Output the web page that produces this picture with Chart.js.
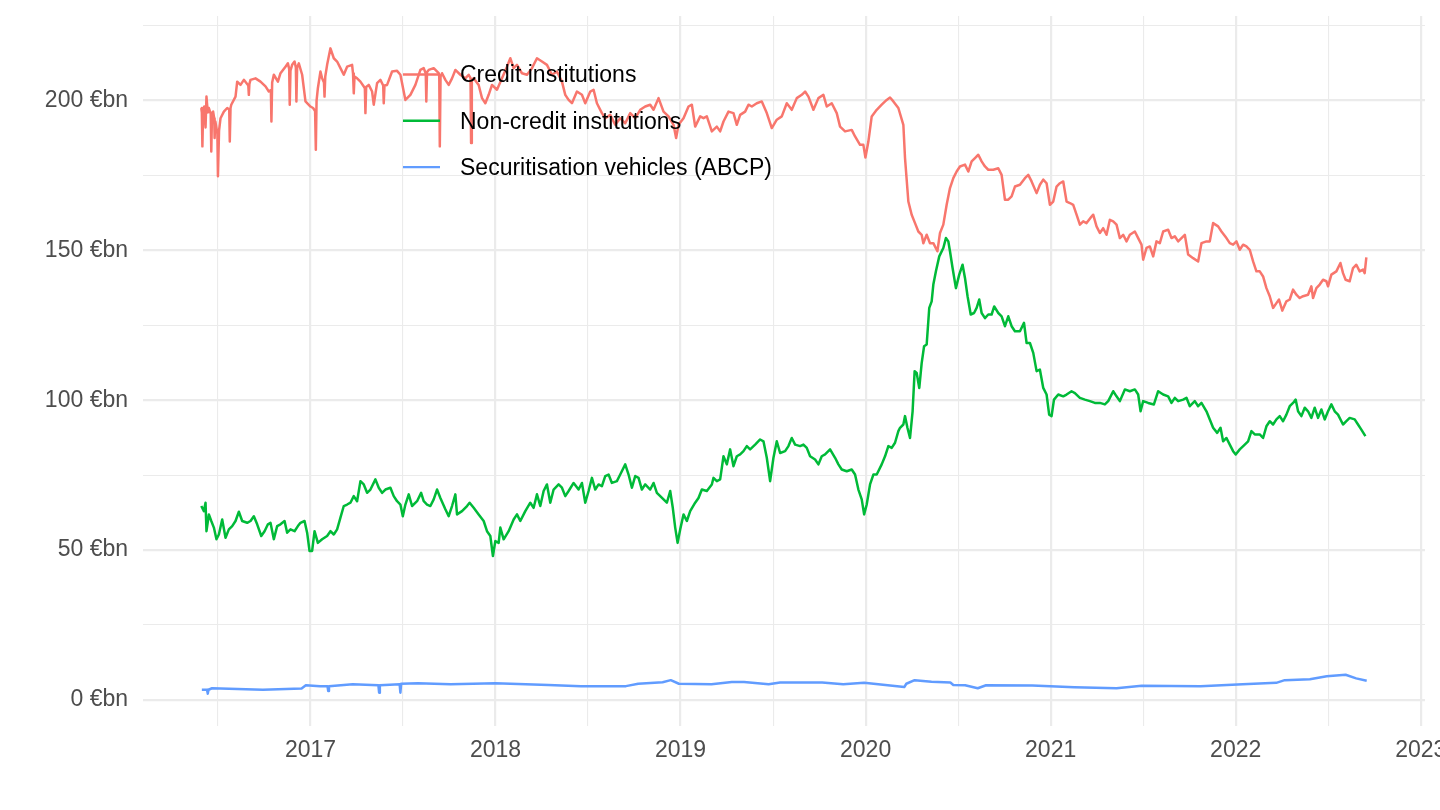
<!DOCTYPE html>
<html lang="en">
<head>
    <meta charset="UTF-8">
    <title>Commercial paper outstanding by issuer</title>
    <script src="https://cdn.jsdelivr.net/npm/chart.js"></script>
    <style>
        body {
            margin: 0;
            padding: 0;
            background-color: #ffffff;
        }

        .chart-container {
            position: relative;
            width: 1440px;
            height: 810px;
        }
    </style>
</head>
<body>
    <div class="chart-container">
        <canvas id="cpChart"></canvas>
    </div>

    <script>
        // Values: x in decimal years, y in € billions
        const creditYears = [
            2016.410, 2016.413, 2016.416, 2016.420, 2016.426, 2016.433, 2016.438, 2016.445, 2016.451, 2016.461,
            2016.464, 2016.468, 2016.474, 2016.480, 2016.482, 2016.486, 2016.492, 2016.497, 2016.500, 2016.506,
            2016.514, 2016.532, 2016.550, 2016.561, 2016.564, 2016.568, 2016.572, 2016.595, 2016.604, 2016.622,
            2016.640, 2016.664, 2016.667, 2016.670, 2016.676, 2016.703, 2016.730, 2016.757, 2016.775, 2016.786,
            2016.789, 2016.793, 2016.802, 2016.824, 2016.838, 2016.865, 2016.878, 2016.885, 2016.888, 2016.892,
            2016.901, 2016.914, 2016.921, 2016.924, 2016.928, 2016.937, 2016.955, 2016.973, 2017.000, 2017.014,
            2017.025, 2017.029, 2017.033, 2017.040, 2017.054, 2017.063, 2017.073, 2017.076, 2017.080, 2017.090,
            2017.108, 2017.126, 2017.144, 2017.162, 2017.180, 2017.198, 2017.225, 2017.230, 2017.234, 2017.238,
            2017.252, 2017.270, 2017.288, 2017.294, 2017.297, 2017.301, 2017.315, 2017.333, 2017.342, 2017.360,
            2017.378, 2017.393, 2017.396, 2017.400, 2017.414, 2017.441, 2017.468, 2017.486, 2017.513, 2017.540,
            2017.567, 2017.594, 2017.612, 2017.623, 2017.626, 2017.630, 2017.639, 2017.666, 2017.693, 2017.696,
            2017.699, 2017.703, 2017.711, 2017.729, 2017.747, 2017.765, 2017.783, 2017.810, 2017.837, 2017.855,
            2017.865, 2017.868, 2017.872, 2017.882, 2017.909, 2017.927, 2017.945, 2017.963, 2017.981, 2018.008,
            2018.035, 2018.062, 2018.080, 2018.098, 2018.116, 2018.143, 2018.170, 2018.197, 2018.224, 2018.251,
            2018.278, 2018.305, 2018.332, 2018.359, 2018.377, 2018.395, 2018.413, 2018.440, 2018.467, 2018.485,
            2018.512, 2018.530, 2018.548, 2018.575, 2018.593, 2018.620, 2018.647, 2018.674, 2018.701, 2018.728,
            2018.755, 2018.782, 2018.809, 2018.836, 2018.854, 2018.881, 2018.908, 2018.935, 2018.962, 2018.976,
            2018.989, 2019.016, 2019.043, 2019.061, 2019.079, 2019.106, 2019.124, 2019.142, 2019.169, 2019.196,
            2019.214, 2019.232, 2019.259, 2019.286, 2019.304, 2019.322, 2019.349, 2019.367, 2019.385, 2019.412,
            2019.439, 2019.466, 2019.493, 2019.520, 2019.547, 2019.574, 2019.601, 2019.628, 2019.655, 2019.673,
            2019.691, 2019.718, 2019.745, 2019.772, 2019.790, 2019.817, 2019.844, 2019.862, 2019.889, 2019.925,
            2019.943, 2019.970, 2019.988, 2019.999, 2020.015, 2020.033, 2020.060, 2020.087, 2020.114, 2020.132,
            2020.150, 2020.177, 2020.204, 2020.213, 2020.231, 2020.249, 2020.267, 2020.285, 2020.303, 2020.312,
            2020.330, 2020.348, 2020.366, 2020.388, 2020.402, 2020.420, 2020.438, 2020.456, 2020.474, 2020.492,
            2020.510, 2020.537, 2020.555, 2020.573, 2020.591, 2020.609, 2020.627, 2020.645, 2020.663, 2020.690,
            2020.717, 2020.735, 2020.753, 2020.771, 2020.789, 2020.807, 2020.834, 2020.861, 2020.879, 2020.897,
            2020.924, 2020.942, 2020.960, 2020.978, 2020.996, 2021.014, 2021.032, 2021.050, 2021.068, 2021.086,
            2021.104, 2021.122, 2021.140, 2021.158, 2021.176, 2021.194, 2021.221, 2021.230, 2021.248, 2021.266,
            2021.284, 2021.302, 2021.320, 2021.338, 2021.356, 2021.374, 2021.392, 2021.410, 2021.428, 2021.455,
            2021.473, 2021.491, 2021.500, 2021.518, 2021.536, 2021.554, 2021.572, 2021.590, 2021.608, 2021.635,
            2021.653, 2021.671, 2021.689, 2021.707, 2021.725, 2021.743, 2021.770, 2021.797, 2021.815, 2021.842,
            2021.860, 2021.878, 2021.905, 2021.923, 2021.950, 2021.968, 2021.986, 2022.004, 2022.022, 2022.040,
            2022.058, 2022.076, 2022.094, 2022.112, 2022.130, 2022.148, 2022.166, 2022.184, 2022.202, 2022.220,
            2022.234, 2022.252, 2022.274, 2022.292, 2022.310, 2022.328, 2022.346, 2022.364, 2022.391, 2022.409,
            2022.418, 2022.436, 2022.454, 2022.472, 2022.490, 2022.499, 2022.517, 2022.544, 2022.566, 2022.580,
            2022.594, 2022.616, 2022.634, 2022.652, 2022.670, 2022.688, 2022.697, 2022.706
        ];
        const creditValues = [
            197.5, 196.0, 184.7, 197.0, 198.0, 191.0, 201.3, 196.0, 197.5, 195.5,
            183.0, 195.8, 196.3, 194.0, 187.5, 193.0, 190.8, 189.0, 174.7, 190.0,
            194.1, 196.3, 197.5, 197.0, 186.3, 197.5, 198.6, 201.3, 206.3, 205.2,
            206.9, 205.0, 201.9, 205.5, 206.9, 207.4, 206.3, 204.7, 203.0, 203.5,
            193.0, 206.0, 208.6, 206.3, 209.1, 211.3, 212.4, 210.5, 198.6, 210.0,
            211.9, 213.0, 211.0, 199.7, 211.0, 212.4, 208.6, 199.7, 198.0, 197.5,
            196.5, 183.6, 200.0, 204.1, 209.7, 207.4, 206.0, 201.3, 208.0, 211.9,
            217.4, 214.1, 213.0, 210.8, 208.6, 211.3, 211.9, 209.0, 202.4, 208.0,
            207.4, 206.3, 204.7, 204.0, 195.8, 204.5, 205.2, 203.0, 198.6, 205.8,
            206.9, 205.0, 199.1, 205.0, 205.2, 209.7, 209.9, 208.6, 200.2, 201.9,
            205.2, 210.2, 210.8, 209.0, 199.7, 209.5, 210.2, 210.8, 209.1, 208.0,
            184.7, 208.0, 209.1, 206.9, 205.2, 207.4, 210.2, 208.6, 207.4, 208.6,
            207.5, 185.8, 207.0, 207.4, 205.2, 200.8, 199.1, 201.9, 205.2, 203.6,
            207.4, 211.3, 214.1, 210.8, 211.9, 209.1, 208.6, 210.8, 214.1, 213.0,
            211.9, 208.6, 209.7, 206.3, 201.9, 200.2, 199.1, 203.0, 201.9, 199.1,
            203.0, 203.6, 199.1, 195.8, 194.1, 195.2, 191.9, 194.1, 192.4, 195.8,
            194.1, 196.9, 198.0, 198.6, 196.9, 200.8, 196.3, 194.7, 191.9, 187.5,
            191.9, 194.1, 198.0, 198.6, 191.3, 194.7, 194.1, 194.7, 189.7, 191.3,
            189.7, 193.0, 196.3, 195.8, 191.9, 195.2, 196.3, 198.6, 198.0, 199.1,
            199.7, 195.8, 190.8, 193.6, 194.7, 199.1, 196.9, 200.8, 201.9, 203.0,
            201.3, 196.9, 200.8, 201.9, 198.0, 199.1, 195.8, 191.3, 189.7, 190.2,
            188.0, 185.2, 185.2, 181.0, 186.3, 194.7, 196.9, 198.6, 200.2, 201.0,
            199.7, 197.5, 191.9, 180.8, 166.3, 161.9, 159.1, 156.3, 155.2, 152.4,
            155.2, 152.4, 152.4, 149.7, 155.8, 158.6, 165.2, 170.8, 174.1, 176.3,
            178.0, 178.6, 176.3, 179.7, 180.8, 181.9, 179.7, 178.0, 176.9, 176.9,
            177.4, 175.2, 166.9, 166.9, 168.0, 171.3, 171.9, 174.1, 175.2, 173.0,
            169.1, 171.9, 173.6, 172.4, 165.2, 166.3, 171.3, 172.4, 173.0, 166.3,
            165.8, 165.2, 161.9, 158.6, 159.7, 159.1, 161.3, 161.9, 158.0, 155.8,
            157.4, 155.2, 160.2, 159.7, 158.6, 154.1, 155.2, 153.0, 155.2, 156.3,
            154.1, 151.9, 146.9, 150.8, 151.3, 148.0, 153.0, 152.4, 156.3, 156.9,
            154.1, 154.7, 153.0, 154.1, 155.2, 148.6, 147.4, 146.3, 152.4, 153.0,
            153.0, 159.1, 158.0, 156.3, 154.1, 152.4, 151.9, 153.0, 150.2, 151.9,
            151.3, 150.2, 146.3, 143.0, 143.0, 141.3, 137.4, 134.7, 130.8, 132.4,
            133.6, 129.9, 133.0, 133.6, 136.9, 135.2, 134.1, 134.7, 135.2, 138.0,
            134.1, 137.4, 138.6, 140.2, 139.7, 138.0, 141.9, 143.0, 145.8, 142.4,
            140.2, 139.7, 144.1, 145.2, 143.0, 143.6, 142.4, 147.7
        ];

        const nonCreditYears = [
            2016.410, 2016.424, 2016.433, 2016.438, 2016.451, 2016.464, 2016.478, 2016.492, 2016.505, 2016.523,
            2016.541, 2016.559, 2016.577, 2016.595, 2016.613, 2016.631, 2016.658, 2016.676, 2016.694, 2016.712,
            2016.734, 2016.752, 2016.770, 2016.784, 2016.802, 2016.820, 2016.838, 2016.860, 2016.874, 2016.892,
            2016.914, 2016.932, 2016.946, 2016.968, 2016.982, 2016.995, 2017.009, 2017.022, 2017.040, 2017.063,
            2017.090, 2017.108, 2017.126, 2017.144, 2017.162, 2017.180, 2017.198, 2017.216, 2017.234, 2017.252,
            2017.270, 2017.288, 2017.306, 2017.324, 2017.351, 2017.369, 2017.387, 2017.405, 2017.432, 2017.450,
            2017.468, 2017.486, 2017.499, 2017.513, 2017.531, 2017.549, 2017.576, 2017.598, 2017.612, 2017.630,
            2017.648, 2017.666, 2017.684, 2017.702, 2017.729, 2017.747, 2017.765, 2017.783, 2017.792, 2017.819,
            2017.846, 2017.860, 2017.882, 2017.909, 2017.936, 2017.954, 2017.972, 2017.986, 2017.999, 2018.017,
            2018.026, 2018.044, 2018.071, 2018.098, 2018.116, 2018.134, 2018.161, 2018.188, 2018.206, 2018.224,
            2018.242, 2018.260, 2018.278, 2018.296, 2018.314, 2018.341, 2018.359, 2018.377, 2018.395, 2018.422,
            2018.449, 2018.467, 2018.485, 2018.503, 2018.521, 2018.539, 2018.557, 2018.575, 2018.593, 2018.611,
            2018.629, 2018.656, 2018.674, 2018.701, 2018.719, 2018.737, 2018.755, 2018.773, 2018.791, 2018.809,
            2018.836, 2018.854, 2018.872, 2018.890, 2018.908, 2018.926, 2018.944, 2018.958, 2018.971, 2018.984,
            2018.998, 2019.016, 2019.034, 2019.052, 2019.079, 2019.097, 2019.115, 2019.142, 2019.169, 2019.178,
            2019.196, 2019.214, 2019.232, 2019.250, 2019.268, 2019.286, 2019.304, 2019.322, 2019.340, 2019.358,
            2019.376, 2019.403, 2019.430, 2019.448, 2019.466, 2019.484, 2019.502, 2019.520, 2019.538, 2019.565,
            2019.583, 2019.601, 2019.619, 2019.646, 2019.664, 2019.682, 2019.700, 2019.727, 2019.745, 2019.763,
            2019.781, 2019.808, 2019.835, 2019.853, 2019.871, 2019.898, 2019.925, 2019.943, 2019.961, 2019.979,
            2019.992, 2020.006, 2020.024, 2020.042, 2020.060, 2020.087, 2020.105, 2020.123, 2020.141, 2020.159,
            2020.177, 2020.186, 2020.204, 2020.213, 2020.226, 2020.240, 2020.254, 2020.265, 2020.276, 2020.290,
            2020.303, 2020.316, 2020.330, 2020.344, 2020.357, 2020.366, 2020.380, 2020.398, 2020.420, 2020.434,
            2020.447, 2020.456, 2020.470, 2020.488, 2020.506, 2020.524, 2020.537, 2020.551, 2020.568, 2020.586,
            2020.600, 2020.614, 2020.627, 2020.645, 2020.663, 2020.681, 2020.695, 2020.717, 2020.735, 2020.753,
            2020.771, 2020.789, 2020.807, 2020.834, 2020.856, 2020.870, 2020.888, 2020.906, 2020.924, 2020.942,
            2020.960, 2020.978, 2020.992, 2021.005, 2021.018, 2021.041, 2021.068, 2021.086, 2021.113, 2021.131,
            2021.158, 2021.185, 2021.212, 2021.239, 2021.266, 2021.293, 2021.311, 2021.338, 2021.356, 2021.374,
            2021.401, 2021.428, 2021.455, 2021.473, 2021.486, 2021.500, 2021.527, 2021.558, 2021.581, 2021.608,
            2021.635, 2021.653, 2021.671, 2021.689, 2021.716, 2021.734, 2021.752, 2021.779, 2021.797, 2021.815,
            2021.842, 2021.860, 2021.878, 2021.900, 2021.918, 2021.932, 2021.950, 2021.968, 2021.986, 2022.000,
            2022.022, 2022.049, 2022.067, 2022.085, 2022.103, 2022.130, 2022.148, 2022.166, 2022.184, 2022.202,
            2022.220, 2022.238, 2022.256, 2022.274, 2022.292, 2022.310, 2022.324, 2022.337, 2022.355, 2022.373,
            2022.391, 2022.409, 2022.427, 2022.445, 2022.463, 2022.481, 2022.499, 2022.517, 2022.535, 2022.553,
            2022.580, 2022.598, 2022.616, 2022.643, 2022.661, 2022.679, 2022.701
        ];
        const nonCreditValues = [
            64.7, 63.0, 65.8, 56.3, 61.9, 59.7, 57.5, 53.6, 55.2, 60.2,
            54.1, 56.9, 58.0, 59.7, 62.8, 59.7, 59.1, 59.7, 61.3, 58.6,
            54.7, 56.3, 58.6, 59.1, 53.6, 58.0, 58.6, 59.7, 55.8, 56.9,
            56.3, 58.0, 59.1, 59.7, 55.8, 49.7, 49.7, 56.3, 52.4, 53.6,
            54.7, 56.3, 55.2, 56.9, 60.8, 64.7, 65.2, 65.8, 68.0, 66.3,
            73.0, 71.9, 69.1, 70.2, 73.6, 70.8, 69.1, 70.2, 70.8, 68.0,
            66.3, 65.2, 61.3, 65.2, 68.6, 64.7, 66.3, 69.1, 66.3, 65.2,
            64.7, 66.9, 70.2, 67.4, 63.6, 61.3, 64.7, 68.6, 61.9, 63.0,
            64.7, 65.8, 64.1, 61.9, 59.7, 56.3, 54.7, 48.0, 53.0, 52.4,
            57.5, 53.6, 56.3, 60.2, 61.9, 59.7, 63.0, 65.8, 64.1, 68.6,
            64.7, 69.7, 71.9, 65.8, 70.2, 71.9, 70.8, 68.0, 69.7, 72.4,
            70.2, 72.4, 65.8, 69.7, 74.1, 70.2, 71.9, 71.3, 74.7, 75.2,
            72.4, 73.0, 75.2, 78.6, 75.2, 70.8, 74.7, 74.1, 70.2, 71.9,
            70.2, 72.4, 69.1, 68.0, 66.9, 65.8, 69.7, 64.1, 57.5, 52.4,
            56.9, 61.9, 59.7, 63.0, 65.8, 67.4, 70.2, 69.7, 71.9, 74.1,
            73.0, 73.6, 81.3, 78.6, 83.6, 78.0, 81.3, 81.9, 83.0, 84.7,
            83.6, 85.2, 86.9, 86.3, 80.8, 73.0, 80.8, 86.3, 82.4, 83.0,
            84.7, 87.4, 85.2, 84.7, 85.2, 84.1, 81.3, 80.2, 78.6, 81.3,
            81.9, 83.6, 80.8, 78.6, 76.9, 76.3, 76.9, 75.2, 70.2, 66.9,
            61.9, 65.2, 71.9, 75.2, 75.2, 78.6, 81.3, 84.7, 84.1, 85.8,
            89.7, 90.8, 91.9, 94.7, 90.8, 87.4, 96.3, 109.7, 109.1, 104.1,
            112.4, 118.0, 118.6, 130.8, 133.0, 138.6, 143.0, 148.0, 150.8, 154.1,
            153.0, 149.7, 144.1, 137.4, 141.9, 145.2, 140.8, 134.7, 128.6, 129.1,
            130.8, 133.6, 129.1, 127.4, 128.6, 128.6, 131.3, 129.1, 128.0, 124.7,
            128.0, 124.7, 123.0, 123.0, 125.8, 119.1, 119.1, 115.8, 109.7, 110.2,
            104.1, 101.9, 95.2, 94.7, 100.2, 101.9, 101.3, 101.9, 103.0, 102.4,
            100.8, 100.2, 99.7, 99.1, 99.1, 98.6, 99.7, 103.0, 101.3, 99.7,
            103.6, 103.0, 103.6, 101.9, 96.3, 99.7, 99.1, 98.6, 103.0, 101.9,
            101.3, 99.1, 100.8, 99.7, 100.2, 100.8, 98.0, 99.7, 98.0, 99.1,
            96.3, 93.6, 90.8, 89.1, 90.8, 86.3, 87.4, 85.2, 83.0, 81.9,
            83.6, 85.2, 86.3, 89.7, 88.6, 88.6, 87.4, 91.3, 93.0, 91.9,
            93.6, 94.7, 93.0, 95.2, 98.0, 99.1, 100.2, 96.3, 94.7, 97.5,
            96.3, 94.1, 97.5, 94.1, 96.9, 93.6, 96.3, 98.6, 96.3, 95.2,
            91.9, 93.0, 94.1, 93.6, 91.9, 90.2, 88.0
        ];

        const abcpYears = [
            2016.413, 2016.441, 2016.445, 2016.449, 2016.468, 2016.743, 2016.952, 2016.975, 2017.052, 2017.092,
            2017.096, 2017.100, 2017.228, 2017.367, 2017.371, 2017.375, 2017.482, 2017.486, 2017.490, 2017.581,
            2017.757, 2017.999, 2018.286, 2018.462, 2018.705, 2018.771, 2018.903, 2018.947, 2018.991, 2019.167,
            2019.277, 2019.343, 2019.476, 2019.538, 2019.765, 2019.879, 2019.992, 2020.209, 2020.220, 2020.265,
            2020.356, 2020.458, 2020.474, 2020.538, 2020.606, 2020.651, 2020.901, 2021.128, 2021.356, 2021.492,
            2021.810, 2022.038, 2022.219, 2022.265, 2022.401, 2022.492, 2022.594, 2022.651, 2022.708
        ];
        const abcpValues = [
            3.4, 3.4, 2.1, 3.4, 3.9, 3.4, 3.8, 4.9, 4.6, 4.6,
            3.0, 4.6, 5.2, 4.9, 2.4, 4.9, 5.2, 2.4, 5.4, 5.6,
            5.2, 5.6, 5.0, 4.6, 4.6, 5.4, 5.9, 6.6, 5.4, 5.2,
            6.0, 6.0, 5.2, 5.8, 5.8, 5.2, 5.7, 4.3, 5.4, 6.6,
            6.1, 5.8, 5.0, 4.9, 3.9, 4.9, 4.8, 4.2, 3.9, 4.7,
            4.6, 5.2, 5.7, 6.6, 6.9, 7.9, 8.4, 7.2, 6.4
        ];

        const seriesNames = ['Credit institutions', 'Non-credit institutions', 'Securitisation vehicles (ABCP)'];
        const seriesColors = ['#F8766D', '#00BA38', '#619CFF'];
        const yearTicks = [2017, 2018, 2019, 2020, 2021, 2022, 2023];
        const valueTicks = [0, 50, 100, 150, 200];

        const FONT = '"Liberation Sans", Arial, Helvetica, sans-serif';
        const GRID = '#EBEBEB';

        function toPoints(xs, ys) {
            return xs.map((x, i) => ({ x: x, y: ys[i] }));
        }

        // major ticks labelled, minor ticks half way between (as in ggplot)
        const xGridValues = [];
        yearTicks.forEach(y => { xGridValues.push(y - 0.5, y); });
        const yGridValues = [];
        valueTicks.forEach(v => { yGridValues.push(v, v + 25); });

        // legend drawn inside the panel, like the original
        const insideLegend = {
            id: 'insideLegend',
            afterDatasetsDraw(chart) {
                const ctx = chart.ctx;
                ctx.save();
                ctx.font = '23px ' + FONT;
                ctx.textBaseline = 'middle';
                ctx.textAlign = 'left';
                seriesNames.forEach((name, i) => {
                    const y = 74.5 + i * 46.3;
                    ctx.strokeStyle = seriesColors[i];
                    ctx.lineWidth = 2.4;
                    ctx.beginPath();
                    ctx.moveTo(403, y);
                    ctx.lineTo(440, y);
                    ctx.stroke();
                    ctx.fillStyle = '#000000';
                    ctx.fillText(name, 460, y + 1.5);
                });
                ctx.restore();
            }
        };

        const datasets = [
            { label: seriesNames[0], data: toPoints(creditYears, creditValues), order: 3 },
            { label: seriesNames[1], data: toPoints(nonCreditYears, nonCreditValues), order: 2 },
            { label: seriesNames[2], data: toPoints(abcpYears, abcpValues), order: 1 }
        ].map((d, i) => Object.assign(d, {
            borderColor: seriesColors[i],
            backgroundColor: seriesColors[i],
            borderWidth: 2.5,
            borderJoinStyle: 'round',
            pointRadius: 0,
            tension: 0,
            fill: false
        }));

        const ctx = document.getElementById('cpChart').getContext('2d');
        const cpChart = new Chart(ctx, {
            type: 'line',
            data: { datasets: datasets },
            plugins: [insideLegend],
            options: {
                responsive: true,
                maintainAspectRatio: false,
                animation: false,
                events: [],
                layout: { padding: { left: 0, right: 15, top: 0, bottom: 0 } },
                plugins: {
                    legend: { display: false },
                    tooltip: { enabled: false }
                },
                scales: {
                    x: {
                        type: 'linear',
                        min: 2016.095,
                        max: 2023.023,
                        afterBuildTicks: scale => { scale.ticks = xGridValues.map(v => ({ value: v })); },
                        afterFit: scale => { scale.height = 84; scale.paddingLeft = 0; scale.paddingRight = 0; },
                        border: { display: false },
                        grid: {
                            drawTicks: false,
                            color: GRID,
                            lineWidth: c => (c.tick && yearTicks.includes(c.tick.value)) ? 2.2 : 1.1
                        },
                        ticks: {
                            autoSkip: false,
                            maxRotation: 0,
                            padding: 11,
                            color: '#4D4D4D',
                            font: { family: FONT, size: 23 },
                            callback: v => yearTicks.includes(v) ? String(v) : ''
                        }
                    },
                    y: {
                        type: 'linear',
                        min: -8.7,
                        max: 228.2,
                        afterBuildTicks: scale => { scale.ticks = yGridValues.map(v => ({ value: v })); },
                        afterFit: scale => { scale.width = 143; scale.paddingTop = 16; scale.paddingBottom = 0; },
                        border: { display: false },
                        grid: {
                            drawTicks: false,
                            color: GRID,
                            lineWidth: c => (c.tick && valueTicks.includes(c.tick.value)) ? 2.2 : 1.1
                        },
                        ticks: {
                            padding: 15,
                            color: '#4D4D4D',
                            font: { family: FONT, size: 23 },
                            callback: v => valueTicks.includes(v) ? v + ' €bn' : ''
                        }
                    }
                }
            }
        });
    </script>
</body>
</html>
